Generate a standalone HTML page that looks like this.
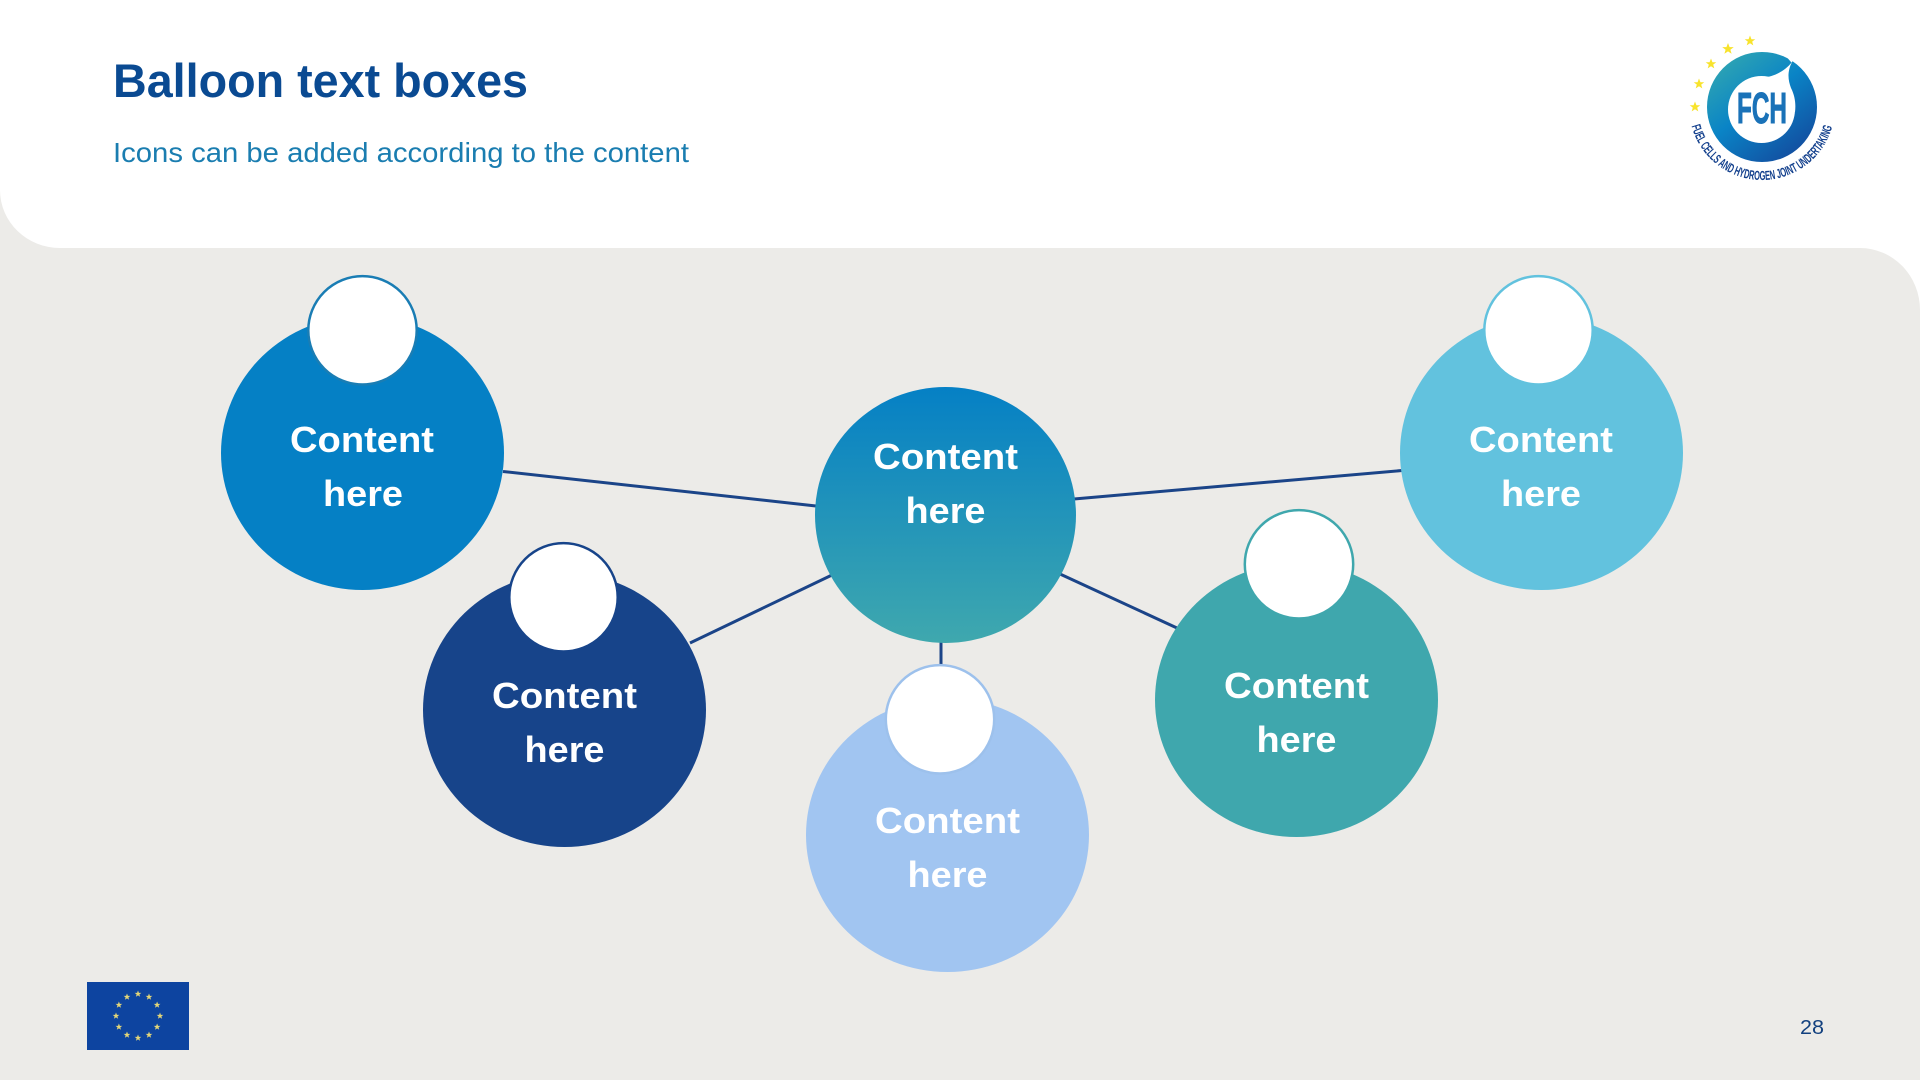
<!DOCTYPE html>
<html lang="en">
<head>
<meta charset="utf-8">
<title>Balloon text boxes</title>
<style>
html,body{margin:0;padding:0;width:1920px;height:1080px;overflow:hidden;background:#fff}
svg{display:block}
text{font-family:"Liberation Sans",sans-serif}
.c{font-size:36px;font-weight:bold;fill:#fff;text-anchor:middle}
</style>
</head>
<body>
<svg xmlns="http://www.w3.org/2000/svg" width="1920" height="1080" viewBox="0 0 1920 1080">
<defs>
<linearGradient id="g" x1="0" y1="0" x2="0" y2="1">
<stop offset="0" stop-color="#0580C5"/>
<stop offset="1" stop-color="#3FA8AE"/>
</linearGradient>
<linearGradient id="ring" x1="0.15" y1="0.05" x2="0.85" y2="0.95">
<stop offset="0" stop-color="#2FA5B2"/>
<stop offset="0.45" stop-color="#0A84C6"/>
<stop offset="1" stop-color="#134B9E"/>
</linearGradient>
<polygon id="s" points="0,-5 1.3,-1.6 4.8,-1.6 2,0.6 3,4 0,2 -3,4 -2,0.6 -4.8,-1.6 -1.3,-1.6"/>
<path id="arc" d="M1691.500,126 A73 73 0 0 0 1833,124"/>
</defs>

<rect width="1920" height="1080" fill="#fff"/>
<path d="M0,190 A60 58 0 0 0 60,248 L1860,248 A60 62 0 0 1 1920,310 L1920,1080 L0,1080 Z" fill="#ECEBE8"/>

<text x="113" y="97" font-size="47" font-weight="bold" fill="#0A4A92" textLength="415" lengthAdjust="spacingAndGlyphs">Balloon text boxes</text>
<text x="113" y="162" font-size="28" fill="#1A7DB0" textLength="576" lengthAdjust="spacingAndGlyphs">Icons can be added according to the content</text>

<!-- logo -->
<g fill="#F8E32C">
<use href="#s" transform="translate(1750,41) scale(1.1)"/>
<use href="#s" transform="translate(1728,49) scale(1.2)"/>
<use href="#s" transform="translate(1711,64) scale(1.1)"/>
<use href="#s" transform="translate(1699,84) scale(1.1)"/>
<use href="#s" transform="translate(1695,107) scale(1.1)"/>
</g>
<circle cx="1762" cy="107" r="55" fill="url(#ring)"/>
<circle cx="1761.500" cy="109.500" r="33.500" fill="#fff"/>
<path d="M1731,96 C1738,84 1750,80 1763,78 C1775,76 1785,71 1792,62 C1787,72 1788,80 1791,88 C1795,96 1796,104 1795,112 Z" fill="#fff"/>
<path d="M1792,62 L1785,54" stroke="#fff" stroke-width="1.500"/>
<text x="1737" y="123" font-size="44" font-weight="bold" fill="#1A72B8" stroke="#1A72B8" stroke-width="1" textLength="50" lengthAdjust="spacingAndGlyphs">FCH</text>
<text font-size="13" font-weight="bold" fill="#123F8C"><textPath href="#arc" textLength="190" lengthAdjust="spacingAndGlyphs">FUEL CELLS AND HYDROGEN JOINT UNDERTAKING</textPath></text>

<!-- connectors -->
<g stroke="#1B4488" stroke-width="3" fill="none">
<line x1="503" y1="471.500" x2="816" y2="506"/>
<line x1="690" y1="643" x2="832" y2="575"/>
<line x1="941" y1="640" x2="941" y2="667"/>
<line x1="1060" y1="574" x2="1177" y2="628"/>
<line x1="1074" y1="499" x2="1402" y2="470.500"/>
</g>

<!-- balloons -->
<ellipse cx="362.500" cy="453" rx="141.500" ry="137" fill="#0580C5"/>
<circle cx="362.500" cy="330.300" r="54.200" fill="#fff" stroke="#1A7DB4" stroke-width="2.500"/>
<text class="c" x="362" y="452" textLength="144" lengthAdjust="spacingAndGlyphs">Content</text>
<text class="c" x="363" y="506" textLength="80" lengthAdjust="spacingAndGlyphs">here</text>

<ellipse cx="564.500" cy="710" rx="141.500" ry="137" fill="#17448A"/>
<circle cx="563.500" cy="597.300" r="54.200" fill="#fff" stroke="#17448A" stroke-width="2.500"/>
<text class="c" x="564.500" y="708" textLength="145" lengthAdjust="spacingAndGlyphs">Content</text>
<text class="c" x="564.500" y="762" textLength="80" lengthAdjust="spacingAndGlyphs">here</text>

<ellipse cx="945.500" cy="515" rx="130.500" ry="128" fill="url(#g)"/>
<text class="c" x="945.500" y="469" textLength="145" lengthAdjust="spacingAndGlyphs">Content</text>
<text class="c" x="945.500" y="523" textLength="80" lengthAdjust="spacingAndGlyphs">here</text>

<ellipse cx="947.500" cy="835" rx="141.500" ry="137" fill="#A1C5F1"/>
<circle cx="940" cy="719.300" r="54.200" fill="#fff" stroke="#9DC1EC" stroke-width="2.500"/>
<text class="c" x="947.500" y="833" textLength="145" lengthAdjust="spacingAndGlyphs">Content</text>
<text class="c" x="947.500" y="887" textLength="80" lengthAdjust="spacingAndGlyphs">here</text>

<ellipse cx="1296.500" cy="700" rx="141.500" ry="137" fill="#3FA7AD"/>
<circle cx="1299" cy="564.300" r="54.200" fill="#fff" stroke="#3FA7AD" stroke-width="2.500"/>
<text class="c" x="1296.500" y="698" textLength="145" lengthAdjust="spacingAndGlyphs">Content</text>
<text class="c" x="1296.500" y="752" textLength="80" lengthAdjust="spacingAndGlyphs">here</text>

<ellipse cx="1541.500" cy="453" rx="141.500" ry="137" fill="#62C2DE"/>
<circle cx="1538.500" cy="330.300" r="54.200" fill="#fff" stroke="#62C2DE" stroke-width="2.500"/>
<text class="c" x="1541" y="452" textLength="144" lengthAdjust="spacingAndGlyphs">Content</text>
<text class="c" x="1541" y="506" textLength="80" lengthAdjust="spacingAndGlyphs">here</text>

<!-- EU flag -->
<rect x="87" y="982" width="102" height="68" fill="#0D44A0"/>
<g fill="#E3D678">
<use href="#s" transform="translate(138,994) scale(.7)"/>
<use href="#s" transform="translate(149,997) scale(.7)"/>
<use href="#s" transform="translate(157.100,1005) scale(.7)"/>
<use href="#s" transform="translate(160,1016) scale(.7)"/>
<use href="#s" transform="translate(157.100,1027) scale(.7)"/>
<use href="#s" transform="translate(149,1035) scale(.7)"/>
<use href="#s" transform="translate(138,1038) scale(.7)"/>
<use href="#s" transform="translate(127,1035) scale(.7)"/>
<use href="#s" transform="translate(118.900,1027) scale(.7)"/>
<use href="#s" transform="translate(116,1016) scale(.7)"/>
<use href="#s" transform="translate(118.900,1005) scale(.7)"/>
<use href="#s" transform="translate(127,997) scale(.7)"/>
</g>

<text x="1800" y="1034" font-size="20" fill="#12407E" textLength="24" lengthAdjust="spacingAndGlyphs">28</text>
</svg>
</body>
</html>
